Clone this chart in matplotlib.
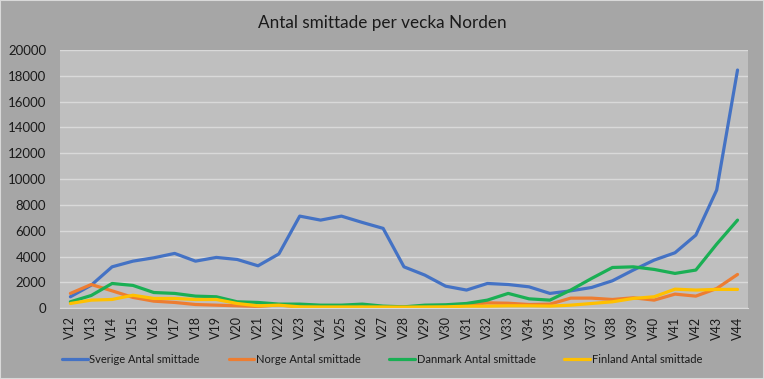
import matplotlib.pyplot as plt
from matplotlib.patches import Rectangle

plt.rcParams['font.family'] = ['Lato', 'DejaVu Sans']

weeks = ["V" + str(w) for w in range(12, 45)]

sverige = [880, 1780, 3200, 3640, 3900, 4240, 3640, 3930, 3770, 3280, 4200,
           7130, 6820, 7130, 6640, 6180, 3200, 2560, 1700, 1400, 1910, 1830,
           1650, 1140, 1340, 1600, 2120, 2950, 3720, 4290, 5660, 9150, 18450]
norge = [1140, 1830, 1340, 830, 540, 440, 280, 230, 180, 130, 250,
         100, 100, 100, 90, 80, 90, 100, 150, 230, 410, 380,
         280, 310, 775, 775, 670, 800, 620, 1085, 930, 1520, 2610]
danmark = [490, 980, 1910, 1760, 1210, 1140, 930, 880, 490, 440, 310,
           310, 230, 230, 310, 155, 100, 230, 260, 360, 620, 1140,
           720, 620, 1400, 2300, 3150, 3200, 3000, 2690, 2950, 4960, 6820]
finland = [360, 620, 670, 1000, 750, 750, 670, 670, 360, 180, 230,
           100, 90, 90, 90, 90, 80, 90, 100, 150, 150, 180,
           180, 155, 230, 360, 490, 750, 880, 1470, 1400, 1450, 1450]

series = [
    ("Sverige Antal smittade", sverige, "#4472C4"),
    ("Norge Antal smittade", norge, "#ED7D31"),
    ("Danmark Antal smittade", danmark, "#1AAF54"),
    ("Finland Antal smittade", finland, "#FFC000"),
]

fig = plt.figure(figsize=(7.64, 3.79), dpi=100, facecolor="#a6a6a6")
ax = fig.add_axes([0.0785, 0.187, 0.9005, 0.681])
ax.set_facecolor("#bfbfbf")

x = list(range(len(weeks)))
for name, vals, col in series:
    ax.plot(x, vals, color=col, lw=2.3, label=name, solid_capstyle="round")

ax.set_xlim(-0.5, len(weeks) - 0.5)
ax.set_ylim(0, 20000)
ax.set_yticks(range(0, 20001, 2000))
ax.set_yticklabels([str(v) for v in range(0, 20001, 2000)], fontsize=9.5, color="#1a1a1a")
ax.set_xticks(x)
ax.set_xticklabels(weeks, rotation=90, fontsize=9, color="#1a1a1a")
ax.tick_params(axis="x", length=0, pad=6)
ax.tick_params(axis="y", length=0, pad=10)
ax.grid(axis="y", color="#d9d9d9", lw=1)
ax.set_axisbelow(True)
for s in ["top", "right", "left"]:
    ax.spines[s].set_visible(False)
ax.spines["bottom"].set_color("#d9d9d9")

fig.text(0.5, 0.94, "Antal smittade per vecka Norden", ha="center", va="center",
         fontsize=12.3, color="#1a1a1a")

leg = fig.legend(loc="center", bbox_to_anchor=(0.5, 0.052), ncol=4, frameon=False,
                 fontsize=8, handlelength=2.3, handletextpad=0.15, columnspacing=2.6)
for t in leg.get_texts():
    t.set_color("#1a1a1a")

fig.patches.append(Rectangle((0, 0), 1, 1, transform=fig.transFigure, fill=False,
                             edgecolor="#d9d9d9", lw=1.5))

fig.savefig("out.png", dpi=100, facecolor=fig.get_facecolor())
